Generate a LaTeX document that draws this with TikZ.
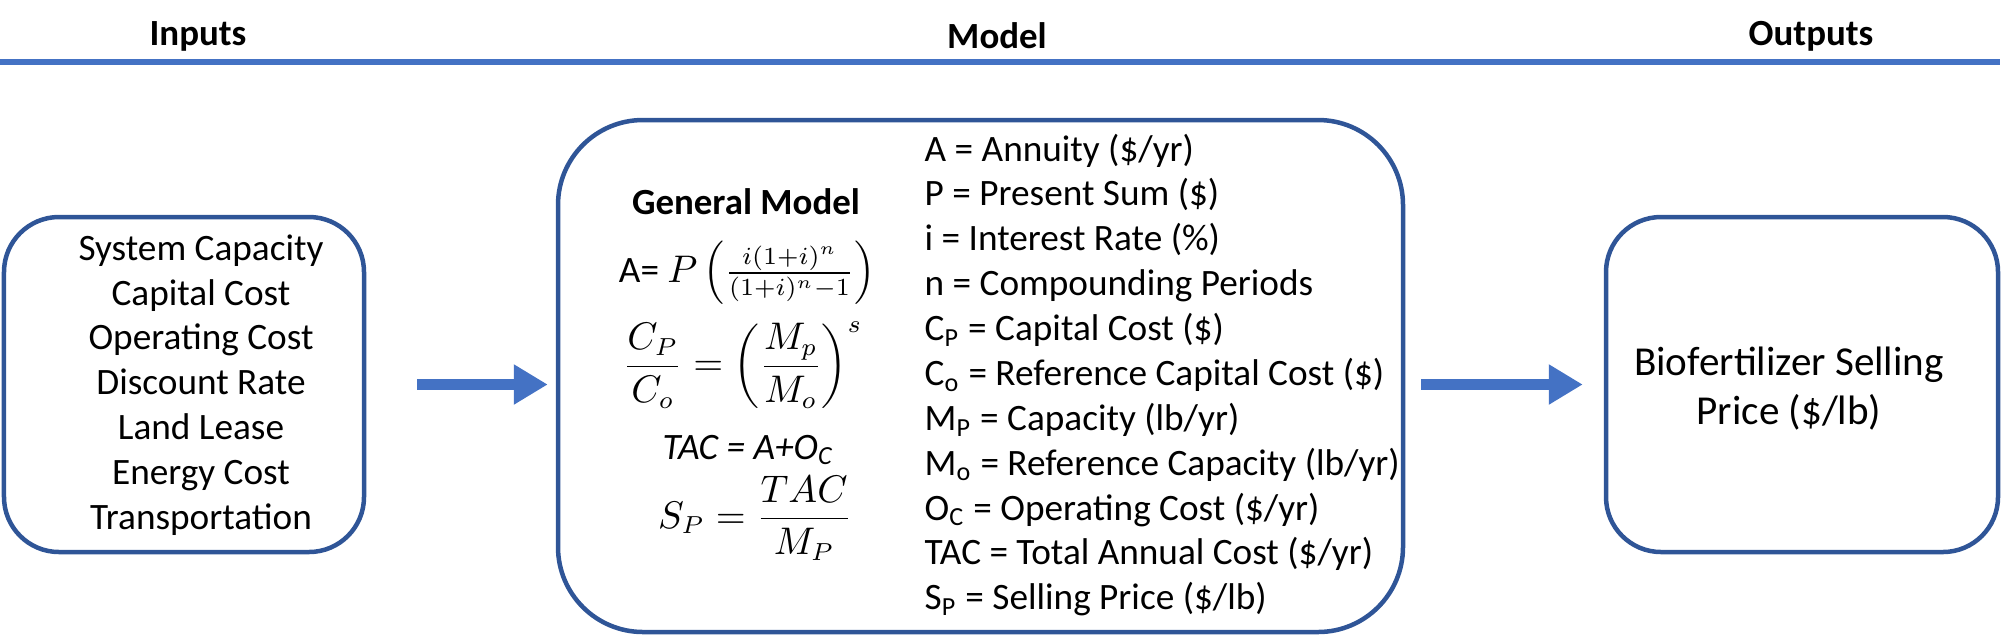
\documentclass[tikz,border=0pt]{standalone}
\usepackage{fontspec}
\setmainfont{Carlito}
\usepackage{xcolor}
\usepackage{tikz}
\usetikzlibrary{arrows.meta}
\definecolor{boxblue}{HTML}{2F5597}
\definecolor{flowblue}{HTML}{4472C4}

\begin{document}
\begin{tikzpicture}[
  head/.style={font=\bfseries\fontsize{10.5}{12.6}\selectfont},
  txt/.style={font=\fontsize{10.6}{12.77}\selectfont, inner sep=0pt},
  panel/.style={draw=boxblue, line width=0.045cm},
  flow/.style={-{Triangle[length=0.34cm,width=0.38cm]}, draw=flowblue, line width=0.11cm}
]
  \useasboundingbox (0,0) rectangle (20.04,-6.43);

  \node (inhead) [head] at (1.98,-0.36) {Inputs};
  \node (modelhead) [head] at (9.97,-0.36) {Model};
  \node (outhead) [head] at (18.11,-0.36) {Outputs};
  \draw[flowblue, line width=0.065cm] (0,-0.62) -- (20.0,-0.62);

  \node (inputs) [panel, rounded corners=0.55cm, minimum width=3.6cm, minimum height=3.35cm] at (1.84,-3.845) {};
  \node (model) [panel, rounded corners=0.85cm, minimum width=8.45cm, minimum height=5.12cm] at (9.805,-3.76) {};
  \node (outputs) [panel, rounded corners=0.55cm, minimum width=3.92cm, minimum height=3.35cm] at (18.02,-3.845) {};

  \node (inlist) [txt, align=center] at (2.01,-3.85) {System Capacity\\Capital Cost\\Operating Cost\\Discount Rate\\Land Lease\\Energy Cost\\Transportation};

  \node (gen) [head] at (7.46,-2.02) {General Model};
  \node (annuity) [txt] at (7.47,-2.73) {A= $P\left(\frac{i(1+i)^n}{(1+i)^n-1}\right)$};
  \node (scale) [txt] at (7.43,-3.65) {$\displaystyle\frac{C_P}{C_o}=\left(\frac{M_p}{M_o}\right)^{s}$};
  \node (tac) [txt] at (7.48,-4.50) {\textit{TAC = A+O\textsubscript{C}}};
  \node (price) [txt] at (7.55,-5.18) {$\displaystyle S_P=\frac{TAC}{M_P}$};

  \node (defs) [txt, align=left, anchor=west] at (9.24,-3.75) {A = Annuity (\$/yr)\\P = Present Sum (\$)\\i = Interest Rate (\%)\\n = Compounding Periods\\C\textsubscript{P} = Capital Cost (\$)\\C\textsubscript{o} = Reference Capital Cost (\$)\\M\textsubscript{P} = Capacity (lb/yr)\\M\textsubscript{o} = Reference Capacity (lb/yr)\\O\textsubscript{C} = Operating Cost (\$/yr)\\TAC = Total Annual Cost (\$/yr)\\S\textsubscript{P} = Selling Price (\$/lb)};

  \node (result) [txt, align=center, font=\fontsize{11.7}{13.9}\selectfont] at (17.89,-3.885) {Biofertilizer Selling\\Price (\$/lb)};

  \draw[flow, shorten <=0.51cm, shorten >=0.08cm] (inputs.east) -- (inputs.east -| model.west);
  \draw[flow, shorten <=0.16cm, shorten >=0.21cm] (outputs.west -| model.east) -- (outputs.west);
\end{tikzpicture}
\end{document}
